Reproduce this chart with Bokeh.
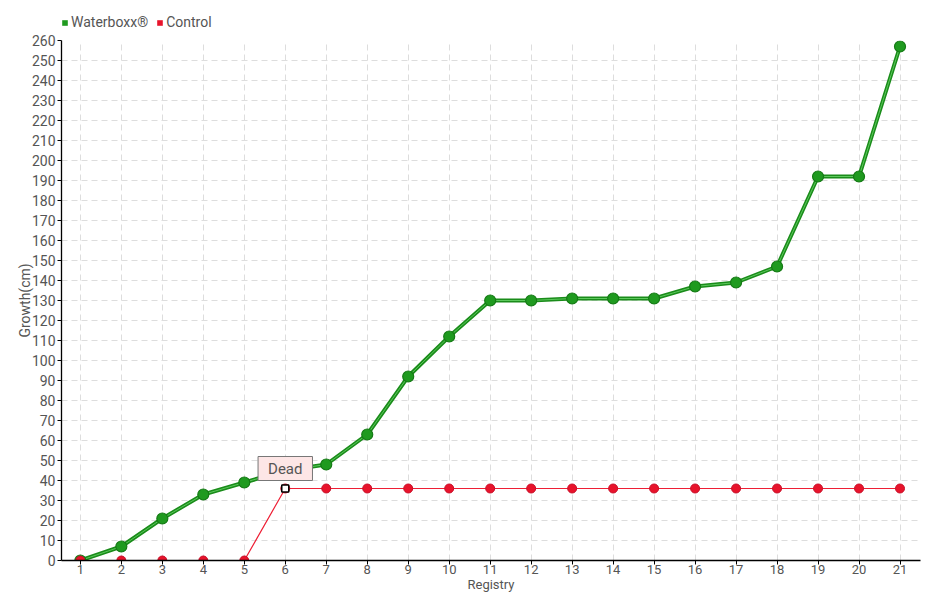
from bokeh.plotting import figure
from bokeh.layouts import column
from bokeh.models import (Legend, LegendItem, Label, FixedTicker, ColumnDataSource,
                          Range1d)
from bokeh.embed import file_html
from bokeh.resources import INLINE

registry = list(range(1, 22))
waterboxx = [0, 7, 21, 33, 39, 45, 48, 63, 92, 112, 130, 130, 131, 131, 131, 137, 139, 147, 192, 192, 257]
control = [0, 0, 0, 0, 0, 36, 36, 36, 36, 36, 36, 36, 36, 36, 36, 36, 36, 36, 36, 36, 36]
series_names = ["Waterboxx\u00ae", "Control"]
dead_x = [6]
dead_y = [36]
dead_text = "Dead"
y_ticks = list(range(0, 261, 10))

FONT = "Roboto"
TXT = "#555555"
GREEN = "#1f9a1f"
RED = "#e8132b"

# ---- main chart ----
p = figure(frame_width=859, frame_height=520, output_backend="svg", toolbar_location=None,
           x_range=Range1d(0.54, 21.5), y_range=Range1d(0, 260),
           min_border_left=61, min_border_right=12, min_border_top=8, min_border_bottom=30)
p.outline_line_color = None

src_w = ColumnDataSource(dict(x=registry, y=waterboxx))
src_c = ColumnDataSource(dict(x=registry, y=control))

p.line("x", "y", source=src_w, line_color="#1a8c1a", line_width=4)
p.line("x", "y", source=src_w, line_color="#5cc85c", line_width=1)
p.scatter("x", "y", source=src_w, size=11, fill_color=GREEN, line_color="#157a15", line_width=1.2)
p.line("x", "y", source=src_c, line_color="#ee1f35", line_width=1.2)
p.scatter("x", "y", source=src_c, size=9, fill_color=RED, line_color="#c8102a")
p.scatter(dead_x, dead_y, marker="square", size=7, fill_color="white", line_color="black", line_width=1.5)

lab = Label(x=dead_x[0], y=dead_y[0], text=dead_text, x_offset=0, y_offset=8,
            text_align="center", text_baseline="bottom", text_font=FONT, text_font_size="15px",
            text_color="#555555", background_fill_color="#fde6e6", border_line_color="#777777",
            border_line_width=1, padding=(10, 3))
p.add_layout(lab)

p.xaxis.ticker = FixedTicker(ticks=registry)
p.yaxis.ticker = FixedTicker(ticks=y_ticks)
for ax in (p.xaxis[0], p.yaxis[0]):
    ax.axis_line_color = "black"
    ax.axis_line_width = 1.3
    ax.major_tick_line_color = "black"
    ax.minor_tick_line_color = None
    ax.major_label_text_font = FONT
    ax.major_label_text_font_size = "14px"
    ax.major_label_text_color = TXT
    ax.axis_label_text_font = FONT
    ax.axis_label_text_font_size = "14px"
    ax.axis_label_text_color = TXT
    ax.axis_label_text_font_style = "normal"
    ax.major_tick_out = 4
    ax.major_tick_in = 0
p.xaxis.axis_label = "Registry"
p.yaxis.axis_label = "Growth(cm)"
p.xaxis.major_label_text_font_size = "13px"
p.xaxis.axis_label_text_font_size = "13px"
p.xaxis.axis_label_standoff = 0
p.xaxis.major_label_standoff = 0
p.yaxis.major_label_standoff = 2
p.yaxis.axis_label_standoff = -4

p.grid.grid_line_color = "#dddddd"
p.grid.grid_line_dash = "6 4"
p.grid.grid_line_width = 1

# ---- legend strip above ----
lg = figure(width=932, height=32, output_backend="svg", toolbar_location=None,
            x_range=Range1d(0, 1), y_range=Range1d(0, 1),
            min_border=0, x_axis_location=None, y_axis_location=None)
lg.outline_line_color = None
lg.grid.visible = False
q1 = lg.vbar(x=registry, top=waterboxx, width=0.5, fill_color=GREEN, line_color=None, visible=False)
q2 = lg.vbar(x=registry, top=control, width=0.5, fill_color=RED, line_color=None, visible=False)
legend = Legend(items=[LegendItem(label=series_names[0], renderers=[q1]),
                       LegendItem(label=series_names[1], renderers=[q2])],
                orientation="horizontal", location=(0, 2),
                label_text_font=FONT, label_text_font_size="14px", label_text_color=TXT,
                glyph_width=7, glyph_height=7, label_standoff=3, spacing=8, padding=2,
                margin=0, border_line_color=None, background_fill_alpha=0)
lg.add_layout(legend, "center")

layout = column(lg, p, spacing=0)
open("out.html", "w").write(file_html(layout, INLINE))
